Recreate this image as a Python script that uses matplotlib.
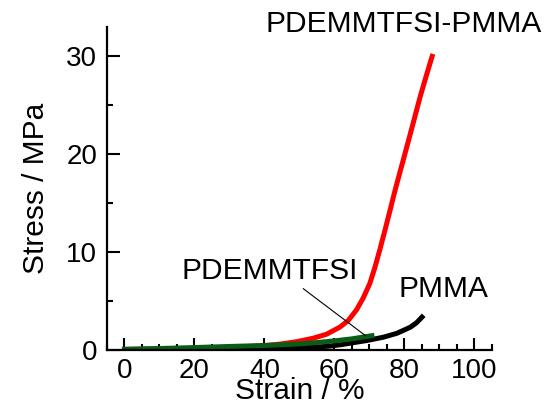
import matplotlib
matplotlib.use("Agg")
import matplotlib.pyplot as plt
from matplotlib.ticker import MultipleLocator

plt.rcParams["font.family"] = ["Liberation Sans", "DejaVu Sans"]

# stress-strain curves (strain %, stress MPa)
blend_strain = [0, 10, 20, 30, 40, 44.4, 49.2, 53.9, 57.8, 61.6, 63.9, 66.3, 68.2,
                70.1, 71.6, 73.0, 74.4, 75.9, 77.3, 80.4, 82.5, 84.5, 86.3, 87.9]
blend_stress = [0.05, 0.1, 0.15, 0.25, 0.45, 0.6, 0.85, 1.2, 1.62, 2.35, 3.0, 4.1, 5.3,
                6.8, 8.5, 10.3, 12.2, 14.3, 16.3, 20.4, 23.2, 25.9, 28.1, 30.0]

pmma_strain = [0, 20, 40, 48.2, 55, 58.7, 62, 66.3, 69.3, 74.0, 77.8, 81.7, 83.5, 85]
pmma_stress = [0.0, 0.05, 0.1, 0.17, 0.3, 0.4, 0.55, 0.8, 0.97, 1.31, 1.7, 2.33, 2.8, 3.36]

il_strain = [0, 10, 20, 30, 40, 50, 55, 60, 65, 70.7]
il_stress = [0.08, 0.15, 0.25, 0.36, 0.46, 0.62, 0.76, 0.93, 1.14, 1.46]

fig = plt.figure(figsize=(5.5, 4.04), dpi=100)
ax = fig.add_axes([0.1945, 0.1337, 0.70, 0.7995])

ax.plot(blend_strain, blend_stress, color="#ff0000", lw=3.6)
ax.plot(pmma_strain, pmma_stress, color="black", lw=3.6)
ax.plot(il_strain, il_stress, color="#0b5c16", lw=3.6)

ax.set_xlim(-5, 105)
ax.set_ylim(0, 33)
ax.xaxis.set_major_locator(MultipleLocator(20))
ax.xaxis.set_minor_locator(MultipleLocator(5))
ax.yaxis.set_major_locator(MultipleLocator(10))
ax.yaxis.set_minor_locator(MultipleLocator(5))

for s in ("top", "right"):
    ax.spines[s].set_visible(False)
for s in ("left", "bottom"):
    ax.spines[s].set_linewidth(1.6)

ax.tick_params(which="both", direction="in", width=1.5, labelsize=20)
ax.tick_params(which="major", length=9)
ax.tick_params(which="minor", length=4.5)
ax.tick_params(axis="x", pad=6)
ax.tick_params(axis="y", pad=7)

ax.set_xlabel("Strain / %", fontsize=21.5, labelpad=-5)
ax.set_ylabel("Stress / MPa", fontsize=21.5, labelpad=12)

ax.text(79.7, 33.3, "PDEMMTFSI-PMMA", fontsize=21.5, ha="center", va="center", clip_on=False)
ax.text(41.5, 8.1, "PDEMMTFSI", fontsize=21.5, ha="center", va="center")
ax.text(91, 6.25, "PMMA", fontsize=21.5, ha="center", va="center", clip_on=False)
ax.plot([51.1, 68.8], [6.26, 1.48], color="black", lw=0.8)

fig.savefig("out.png", dpi=100)
